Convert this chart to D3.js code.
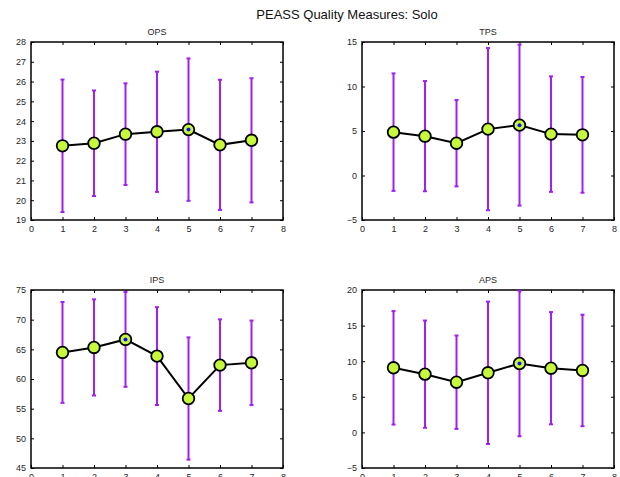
<!DOCTYPE html>
<html>
<head>
<meta charset="utf-8">
<script src="https://cdn.jsdelivr.net/npm/d3@7"></script>
<style>
  body { margin: 0; background: #fff; }
  svg { font-family: "Liberation Sans", Arial, sans-serif; }
</style>
</head>
<body>
<div id="chart"></div>
<script>
/* DATA */
const xs = [1, 2, 3, 4, 5, 6, 7];
const xTicks = [0, 1, 2, 3, 4, 5, 6, 7, 8];

const opsMean = [22.75, 22.88, 23.34, 23.46, 23.57, 22.80, 23.03];
const opsStd = [3.35, 2.67, 2.57, 3.04, 3.60, 3.29, 3.14];
const opsTicks = [19, 20, 21, 22, 23, 24, 25, 26, 27, 28];

const tpsMean = [4.87, 4.42, 3.63, 5.21, 5.66, 4.65, 4.57];
const tpsStd = [6.60, 6.19, 4.85, 9.11, 9.04, 6.49, 6.50];
const tpsTicks = [-5, 0, 5, 10, 15];

const ipsMean = [64.48, 65.32, 66.67, 63.86, 56.71, 62.34, 62.73];
const ipsStd = [8.50, 8.10, 7.99, 8.24, 10.30, 7.71, 7.12];
const ipsTicks = [45, 50, 55, 60, 65, 70, 75];

const apsMean = [9.07, 8.18, 7.05, 8.37, 9.68, 9.02, 8.70];
const apsStd = [7.97, 7.53, 6.56, 10.00, 10.22, 7.88, 7.83];
const apsTicks = [-5, 0, 5, 10, 15, 20];

const panels = [
  { name: "OPS", mean: opsMean, std: opsStd, ticks: opsTicks, best: 4, left: 31, top: 42 },
  { name: "TPS", mean: tpsMean, std: tpsStd, ticks: tpsTicks, best: 4, left: 362, top: 42 },
  { name: "IPS", mean: ipsMean, std: ipsStd, ticks: ipsTicks, best: 2, left: 31, top: 290 },
  { name: "APS", mean: apsMean, std: apsStd, ticks: apsTicks, best: 4, left: 362, top: 290 }
];

const width = 620, height = 477;
const pw = 252, ph = 178;

const svg = d3.select("#chart").append("svg")
  .attr("width", width)
  .attr("height", height);

svg.append("text")
  .attr("x", 347)
  .attr("y", 19)
  .attr("text-anchor", "middle")
  .attr("font-size", 13)
  .attr("fill", "#111")
  .text("PEASS Quality Measures: Solo");

const fmt = d => d < 0 ? "\u2212" + Math.abs(d) : String(d);

panels.forEach(p => {
  const g = svg.append("g").attr("transform", `translate(${p.left},${p.top})`);

  const x = d3.scaleLinear().domain([0, 8]).range([0, pw]);
  const y = d3.scaleLinear().domain(d3.extent(p.ticks)).range([ph, 0]);

  // axes, ticks pointing inward on all sides
  g.append("g")
    .attr("transform", `translate(0,${ph})`)
    .call(d3.axisBottom(x).tickValues(xTicks).tickSizeInner(-3).tickSizeOuter(0).tickPadding(6).tickFormat(fmt));
  g.append("g")
    .call(d3.axisTop(x).tickValues(xTicks).tickSizeInner(-3).tickSizeOuter(0).tickFormat(""));
  g.append("g")
    .call(d3.axisLeft(y).tickValues(p.ticks).tickSizeInner(-3).tickSizeOuter(0).tickPadding(5).tickFormat(fmt));
  g.append("g")
    .attr("transform", `translate(${pw},0)`)
    .call(d3.axisRight(y).tickValues(p.ticks).tickSizeInner(-3).tickSizeOuter(0).tickFormat(""));

  g.selectAll(".domain").remove();
  g.selectAll(".tick line").attr("stroke", "#000").attr("stroke-width", 1);
  g.selectAll(".tick text").attr("font-size", 9).attr("fill", "#262626")
    .attr("font-family", "Liberation Sans, Arial, sans-serif");

  g.append("rect")
    .attr("width", pw).attr("height", ph)
    .attr("fill", "none").attr("stroke", "#000").attr("stroke-width", 1.5);

  // title
  g.append("text")
    .attr("x", pw / 2).attr("y", -7)
    .attr("text-anchor", "middle")
    .attr("font-size", 9)
    .attr("fill", "#262626")
    .text(p.name);

  const rows = xs.map((d, i) => ({ x: d, m: p.mean[i], s: p.std[i], i }));

  // error bars
  const eb = g.selectAll("g.eb").data(rows).join("g").attr("class", "eb")
    .attr("stroke", "#a020f0").attr("stroke-width", 2);
  eb.append("line")
    .attr("x1", d => x(d.x)).attr("x2", d => x(d.x))
    .attr("y1", d => y(d.m - d.s)).attr("y2", d => y(d.m + d.s));
  eb.append("line")
    .attr("x1", d => x(d.x) - 2).attr("x2", d => x(d.x) + 2)
    .attr("y1", d => y(d.m + d.s)).attr("y2", d => y(d.m + d.s));
  eb.append("line")
    .attr("x1", d => x(d.x) - 2).attr("x2", d => x(d.x) + 2)
    .attr("y1", d => y(d.m - d.s)).attr("y2", d => y(d.m - d.s));

  // mean line
  const line = d3.line().x(d => x(d.x)).y(d => y(d.m));
  g.append("path")
    .datum(rows)
    .attr("fill", "none")
    .attr("stroke", "#000")
    .attr("stroke-width", 2)
    .attr("d", line);

  g.selectAll("circle.pt").data(rows).join("circle")
    .attr("class", "pt")
    .attr("cx", d => x(d.x)).attr("cy", d => y(d.m))
    .attr("r", 5.8)
    .attr("fill", "#c6f83c")
    .attr("stroke", "#000")
    .attr("stroke-width", 1.8);

  const best = rows[p.best];
  g.append("circle")
    .attr("cx", x(best.x)).attr("cy", y(best.m))
    .attr("r", 2)
    .attr("fill", "#1010ff");
});
</script>
</body>
</html>
